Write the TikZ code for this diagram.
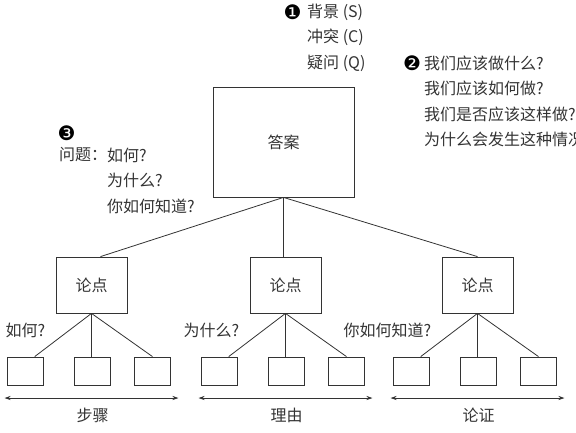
\documentclass[tikz,border=0pt]{standalone}
\usepackage{fontspec}
\setmainfont{Noto Sans CJK SC}
\newfontfamily\dingfont{DejaVu Sans}
\usetikzlibrary{calc,arrows.meta}
\definecolor{ink}{HTML}{333333}
\tikzset{
  frame/.style={draw=ink, line width=0.8pt, inner sep=0pt},
  answerbox/.style={frame, minimum width=141pt, minimum height=110pt},
  pointbox/.style={frame, minimum width=71pt, minimum height=56pt},
  leafbox/.style={frame, minimum width=36pt, minimum height=28pt},
  note/.style={text=ink, inner sep=0pt, anchor=west},
  num/.style={text=black, inner sep=0pt, font=\dingfont\fontsize{20}{20}\selectfont},
  link/.style={draw=ink, line width=0.8pt},
  span/.style={link, {Stealth[length=6pt,width=4pt]}-{Stealth[length=6pt,width=4pt]}},
}
\begin{document}
\begin{tikzpicture}[x=1pt, y=-1pt, font=\fontsize{16}{19}\selectfont, text=ink]
  \useasboundingbox (0,0) rectangle (576,432);

  \node[answerbox] (ans) at (283.5,142) {答案};

  \foreach \i/\cx/\q/\lab in {1/91.5/如何?/步骤, 2/285.5/为什么?/理由, 3/477.5/你如何知道?/论证} {
    \node[pointbox] (p\i) at (\cx,285) {论点};
    \node[leafbox] (la\i) at (\cx-66,371) {};
    \node[leafbox] (lb\i) at (\cx+1,371) {};
    \node[leafbox] (lc\i) at (\cx+61,371) {};
    \draw[link] (p\i.south) -- ($(la\i.north)!0.5!(la\i.north east)$);
    \draw[link] (p\i.south) -- (p\i.south |- lb\i.north);
    \draw[link] (p\i.south) -- (lc\i.north);
    \node[note, anchor=east] (q\i) at (\cx-46,330) {\q};
    \coordinate (s\i) at (\cx-87,398);
    \coordinate (e\i) at (\cx+87,398);
    \draw[span] (s\i) -- (e\i);
    \node[text=ink, inner sep=0pt] (g\i) at (\cx+1,415) {\lab};
  }

  \draw[link] (ans.south) -- ($(p1.north)!0.25!(p1.north east)$);
  \draw[link] (ans.south) -- (ans.south |- p2.north);
  \draw[link] (ans.south) -- (p3.north);

  \node[num] (n1) at (292.5,12) {❶};
  \node[note] (sit) at (307,12) {背景 (S)};
  \node[note] (cmp) at (307,37.5) {冲突 (C)};
  \node[note] (qst) at (307,63) {疑问 (Q)};

  \node[num] (n2) at (412,63) {❷};
  \node[note] (r1) at (424,63) {我们应该做什么?};
  \node[note] (r2) at (424,88.5) {我们应该如何做?};
  \node[note] (r3) at (424,114) {我们是否应该这样做?};
  \node[note] (r4) at (424,139.5) {为什么会发生这种情况};

  \node[num] (n3) at (66.5,133) {❸};
  \node[note] (prob) at (59,155) {问题：};
  \node[note] (h1) at (107,155) {如何?};
  \node[note] (h2) at (107,180.5) {为什么?};
  \node[note] (h3) at (107,206) {你如何知道?};
\end{tikzpicture}
\end{document}
